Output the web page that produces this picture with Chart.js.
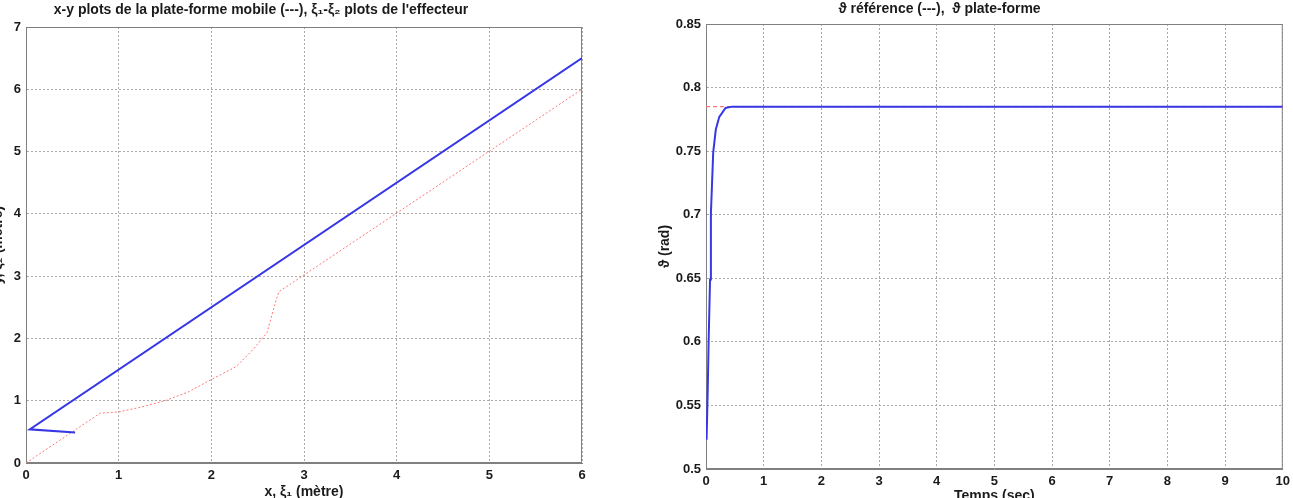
<!DOCTYPE html>
<html>
<head>
<meta charset="utf-8">
<script src="https://cdn.jsdelivr.net/npm/chart.js@4.4.0/dist/chart.umd.min.js"></script>
<style>
  html, body { margin: 0; padding: 0; background: #fff; width: 1293px; height: 498px; overflow: hidden; position: relative; }
  .box { position: absolute; top: 0; height: 506px; }
  #leftBox { left: -60px; width: 654px; }
  #rightBox { left: 591px; width: 704px; }
</style>
</head>
<body>
<div class="box" id="leftBox"><canvas id="xyChart"></canvas></div>
<div class="box" id="rightBox"><canvas id="thetaChart"></canvas></div>
<script>
// left plot: x-y of the platform and xi1-xi2 of the end effector
const platX = [0.53, 0.04, 6];
const platY = [0.49, 0.54, 6.5];
const effX = [0, 0.8, 1.0, 1.25, 1.5, 1.75, 2.0, 2.27, 2.45, 2.6, 2.7, 2.73, 6];
const effY = [0, 0.8, 0.82, 0.9, 1.0, 1.14, 1.34, 1.55, 1.82, 2.09, 2.62, 2.75, 6];
const xyTicksX = [0, 1, 2, 3, 4, 5, 6];
const xyTicksY = [0, 1, 2, 3, 4, 5, 6, 7];

// right plot: theta vs time
const time = [0.01, 0.03, 0.045, 0.07, 0.085, 0.125, 0.17, 0.23, 0.34, 0.45, 10];
const theta = [0.523, 0.562, 0.599, 0.649, 0.701, 0.749, 0.767, 0.777, 0.784, 0.785, 0.785];
const refTime = [0, 10];
const refTheta = [0.785, 0.785];
const timeTicks = [0, 1, 2, 3, 4, 5, 6, 7, 8, 9, 10];
const thetaTicks = [0.5, 0.55, 0.6, 0.65, 0.7, 0.75, 0.8, 0.85];

const family = "'Liberation Sans', Arial, sans-serif";
const txt = '#1a1a1a';
const tickFont = { family: family, size: 13, weight: 'bold' };
const labelFont = { family: family, size: 14, weight: 'bold' };

const toPoints = (xs, ys) => xs.map((x, i) => ({ x: x, y: ys[i] }));

// matlab style box around the axes
const boxFrame = {
  id: 'boxFrame',
  beforeDatasetsDraw(chart) {
    const a = chart.chartArea;
    const ctx = chart.ctx;
    ctx.save();
    ctx.strokeStyle = '#808080';
    ctx.lineWidth = 1;
    ctx.strokeRect(a.left + 0.5, a.top + 0.5, a.right - a.left - 1, a.bottom - a.top - 1);
    ctx.restore();
  }
};

function axis(min, max, tickList, titleText, fit, titlePad) {
  return {
    type: 'linear',
    min: min,
    max: max,
    afterBuildTicks: s => { s.ticks = tickList.map(v => ({ value: v })); },
    afterFit: fit,
    ticks: { font: tickFont, color: txt, padding: 5, maxRotation: 0, autoSkip: false, callback: v => String(v) },
    grid: { color: '#a8a8a8', lineWidth: 1, drawTicks: false },
    border: { color: '#808080', width: 1, dash: [2, 2] },
    title: { display: true, text: titleText, font: labelFont, color: txt, padding: titlePad }
  };
}

function options(o) {
  return {
    responsive: true,
    maintainAspectRatio: false,
    animation: false,
    events: [],
    layout: { padding: { left: 0, right: o.padRight, top: 0, bottom: 0 } },
    plugins: {
      legend: { display: false },
      tooltip: { enabled: false },
      title: { display: true, text: o.title, font: labelFont, color: txt, padding: o.titlePad }
    },
    scales: {
      x: axis(o.xMin, o.xMax, o.xTicks, o.xTitle, s => { s.height = o.xHeight; }, { top: 0, bottom: o.xTitlePad }),
      y: axis(o.yMin, o.yMax, o.yTicks, o.yTitle, s => { s.width = o.yWidth; }, { top: o.yTitlePad, bottom: 0 })
    }
  };
}

new Chart(document.getElementById('xyChart'), {
  type: 'scatter',
  data: {
    datasets: [
      { data: toPoints(platX, platY), showLine: true, borderColor: 'rgb(55,55,230)', borderWidth: 2, pointRadius: 0, tension: 0 },
      { data: toPoints(effX, effY), showLine: true, borderColor: 'rgb(255,120,120)', borderWidth: 1, borderDash: [2, 2], pointRadius: 0, tension: 0 }
    ]
  },
  options: options({
    title: "x-y plots de la plate-forme mobile (---), ξ₁-ξ₂ plots de l'effecteur",
    titlePad: { top: 2, bottom: 8.2 },
    xTitle: 'x, ξ₁ (mètre)', xTitlePad: 5.6, xHeight: 43,
    yTitle: 'y, ξ₂ (mètre)', yTitlePad: 50, yWidth: 86,
    xMin: 0, xMax: 6, yMin: 0, yMax: 7,
    xTicks: xyTicksX, yTicks: xyTicksY,
    padRight: 12
  }),
  plugins: [boxFrame]
});

new Chart(document.getElementById('thetaChart'), {
  type: 'scatter',
  data: {
    datasets: [
      { data: toPoints(time, theta), showLine: true, borderColor: 'rgb(55,55,230)', borderWidth: 2, pointRadius: 0, tension: 0 },
      { data: toPoints(refTime, refTheta), showLine: true, borderColor: 'rgb(255,120,120)', borderWidth: 1.2, borderDash: [4, 3], pointRadius: 0 }
    ]
  },
  options: options({
    title: 'ϑ référence (---),  ϑ plate-forme',
    titlePad: { top: 0.5, bottom: 6.7 },
    xTitle: 'Temps (sec)', xTitlePad: 1.6, xHeight: 37,
    yTitle: 'ϑ (rad)', yTitlePad: 65.6, yWidth: 115,
    xMin: 0, xMax: 10, yMin: 0.5, yMax: 0.85,
    xTicks: timeTicks, yTicks: thetaTicks,
    padRight: 7
  }),
  plugins: [boxFrame]
});
</script>
</body>
</html>
